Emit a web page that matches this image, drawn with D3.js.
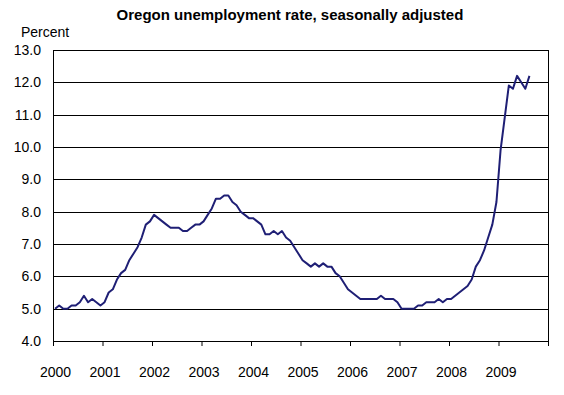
<!DOCTYPE html>
<html>
<head>
<meta charset="utf-8">
<script src="https://cdn.jsdelivr.net/npm/d3@7"></script>
<style>
    body { margin: 0; background: #fff; }
    text { font-family: Arial, "Liberation Sans", sans-serif; fill: #000; }
</style>
</head>
<body>
<svg></svg>
<script>
// year labels on the x axis (one category per month)
const years = ["2000", "2001", "2002", "2003", "2004", "2005", "2006", "2007", "2008", "2009"];
const yTicks = [4, 5, 6, 7, 8, 9, 10, 11, 12, 13];

// monthly rate, Jan 2000 - Aug 2009
const rate = [
    5.0, 5.1, 5.0, 5.0, 5.1, 5.1, 5.2, 5.4, 5.2, 5.3, 5.2, 5.1,
    5.2, 5.5, 5.6, 5.9, 6.1, 6.2, 6.5, 6.7, 6.9, 7.2, 7.6, 7.7,
    7.9, 7.8, 7.7, 7.6, 7.5, 7.5, 7.5, 7.4, 7.4, 7.5, 7.6, 7.6,
    7.7, 7.9, 8.1, 8.4, 8.4, 8.5, 8.5, 8.3, 8.2, 8.0, 7.9, 7.8,
    7.8, 7.7, 7.6, 7.3, 7.3, 7.4, 7.3, 7.4, 7.2, 7.1, 6.9, 6.7,
    6.5, 6.4, 6.3, 6.4, 6.3, 6.4, 6.3, 6.3, 6.1, 6.0, 5.8, 5.6,
    5.5, 5.4, 5.3, 5.3, 5.3, 5.3, 5.3, 5.4, 5.3, 5.3, 5.3, 5.2,
    5.0, 5.0, 5.0, 5.0, 5.1, 5.1, 5.2, 5.2, 5.2, 5.3, 5.2, 5.3,
    5.3, 5.4, 5.5, 5.6, 5.7, 5.9, 6.3, 6.5, 6.8, 7.2, 7.6, 8.3,
    9.9, 10.9, 11.9, 11.8, 12.2, 12.0, 11.8, 12.2
];

const svgWidth = 564, svgHeight = 395;
const margin = { top: 50, right: 16, bottom: 54, left: 53 };
const width = svgWidth - margin.left - margin.right;
const height = svgHeight - margin.top - margin.bottom;

const svg = d3.select("svg")
    .attr("width", svgWidth)
    .attr("height", svgHeight);

const g = svg.append("g")
    .attr("transform", "translate(" + margin.left + "," + margin.top + ")");

const x = d3.scaleLinear()
    .domain([0, years.length * 12])
    .range([0, width]);

const y = d3.scaleLinear()
    .domain([4, 13])
    .range([height, 0]);

// gridlines
g.selectAll(".grid")
    .data(yTicks)
    .enter().append("line")
    .attr("class", "grid")
    .attr("x1", 0)
    .attr("x2", width)
    .attr("y1", d => Math.round(y(d)) + 0.5)
    .attr("y2", d => Math.round(y(d)) + 0.5)
    .attr("stroke", "#000")
    .attr("stroke-width", 1);

// y labels
g.selectAll(".ylab")
    .data(yTicks)
    .enter().append("text")
    .attr("class", "ylab")
    .attr("x", -12)
    .attr("y", d => Math.round(y(d)))
    .attr("dy", "0.35em")
    .attr("text-anchor", "end")
    .style("font-size", "14px")
    .text(d => d.toFixed(1));

// left axis + right border
g.append("line")
    .attr("x1", 0.5).attr("x2", 0.5)
    .attr("y1", 0).attr("y2", height)
    .attr("stroke", "#000");

g.append("line")
    .attr("x1", width + 0.5).attr("x2", width + 0.5)
    .attr("y1", 0).attr("y2", height)
    .attr("stroke", "#000");

// x axis
const xAxis = d3.axisBottom(x)
    .tickValues(d3.range(0, years.length * 12 + 1, 12))
    .tickSize(5)
    .tickSizeOuter(0)
    .tickPadding(21)
    .tickFormat(d => years[d / 12] || "");

const gx = g.append("g")
    .attr("transform", "translate(0," + height + ")")
    .call(xAxis);

gx.select(".domain").attr("stroke", "#000");
gx.selectAll(".tick line").attr("stroke", "#000");
gx.selectAll(".tick text")
    .attr("x", x(0.5) - x(0))
    .style("font-size", "14px")
    .style("font-family", "Arial, 'Liberation Sans', sans-serif")
    .attr("fill", "#000");

// the series
const line = d3.line()
    .x((d, i) => x(i + 0.5))
    .y(d => y(d));

g.append("path")
    .datum(rate)
    .attr("fill", "none")
    .attr("stroke", "#1f1f75")
    .attr("stroke-width", 2)
    .attr("stroke-linejoin", "round")
    .attr("d", line);

// titles
svg.append("text")
    .attr("x", 290)
    .attr("y", 20)
    .attr("text-anchor", "middle")
    .style("font-size", "15px")
    .style("font-weight", "bold")
    .text("Oregon unemployment rate, seasonally adjusted");

svg.append("text")
    .attr("x", 21)
    .attr("y", 37)
    .style("font-size", "14px")
    .text("Percent");
</script>
</body>
</html>
